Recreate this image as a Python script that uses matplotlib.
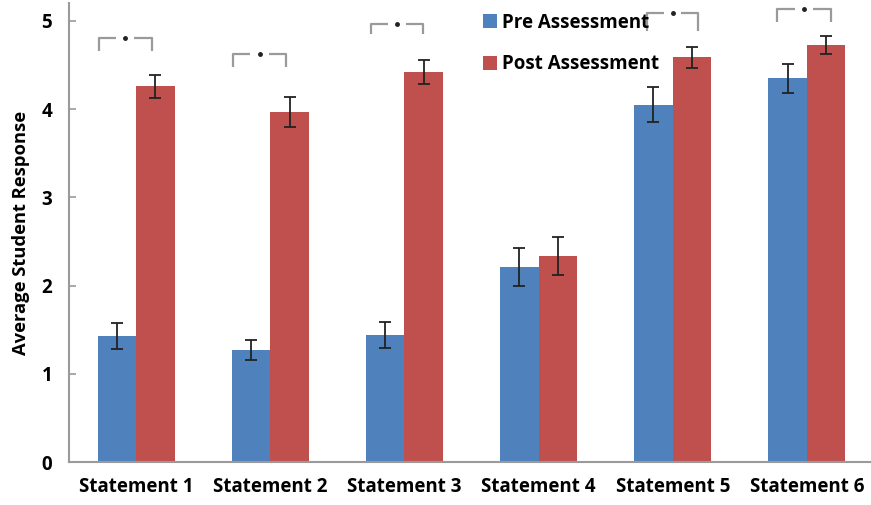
import matplotlib
matplotlib.use("Agg")
import matplotlib.pyplot as plt
import numpy as np

categories = ["Statement 1", "Statement 2", "Statement 3", "Statement 4", "Statement 5", "Statement 6"]
pre_vals = [1.43, 1.27, 1.44, 2.21, 4.05, 4.35]
pre_err = [0.15, 0.11, 0.15, 0.22, 0.20, 0.165]
post_vals = [4.26, 3.97, 4.42, 2.34, 4.59, 4.73]
post_err = [0.13, 0.17, 0.135, 0.215, 0.12, 0.10]
series_labels = ["Pre Assessment", "Post Assessment"]
yticks = [0, 1, 2, 3, 4, 5]

# significance brackets: category index, bracket top, leg bottom
sig_idx = [0, 1, 2, 4, 5]
sig_top = [4.81, 4.63, 4.97, 5.09, 5.14]
sig_bot = [4.66, 4.48, 4.85, 4.89, 4.99]
sig_left = [-0.28, -0.28, -0.25, -0.19, -0.22]
sig_right = [0.12, 0.12, 0.14, 0.19, 0.18]

plt.rcParams['font.family'] = ['Open Sans', 'DejaVu Sans']

fig = plt.figure(figsize=(8.71, 5.05), dpi=100)
ax = fig.add_axes([69/871, 43/505, 805/871, (462-3.3)/505])

x = np.arange(len(categories))
w = 0.287
blue = "#4F81BD"
red = "#C0504D"
ekw = dict(ecolor="#222222", elinewidth=1.3, capsize=4, capthick=1.3)
b1 = ax.bar(x - w/2, pre_vals, w, color=blue, yerr=pre_err, error_kw=ekw, label=series_labels[0])
b2 = ax.bar(x + w/2, post_vals, w, color=red, yerr=post_err, error_kw=ekw, label=series_labels[1])

gray = "#9a9a9a"
for i, t, b, l, r in zip(sig_idx, sig_top, sig_bot, sig_left, sig_right):
    xl, xr = i + l, i + r
    xm = (xl + xr) / 2
    gap = (xr - xl) * 0.17
    ax.plot([xl, xl, xm - gap], [b, t, t], color=gray, lw=1.6, solid_capstyle='butt', clip_on=False)
    ax.plot([xm + gap, xr, xr], [t, t, b], color=gray, lw=1.6, solid_capstyle='butt', clip_on=False)
    ax.plot([xm], [t], marker='o', ms=2.5, color="#222222", clip_on=False)

ax.set_xlim(-0.5, 5.5)
ax.set_ylim(0, 5.2)
ax.set_yticks(yticks)
ax.set_xticks(x)
ax.set_xticklabels(categories, fontsize=13.5, fontweight='bold')
for lab in ax.get_yticklabels():
    lab.set_fontsize(13.5)
    lab.set_fontweight('bold')
ax.tick_params(axis='y', direction='in', length=5, color=gray, width=1.2, pad=12)
ax.tick_params(axis='x', length=0, pad=11)
for s in ['top', 'right']:
    ax.spines[s].set_visible(False)
for s in ['left', 'bottom']:
    ax.spines[s].set_color(gray)
    ax.spines[s].set_linewidth(1.5)
ax.set_ylabel("Average Student Response", fontsize=13.2, fontweight='bold', labelpad=8)

leg = fig.legend(handles=[b1, b2], labels=series_labels, loc='upper left',
                 bbox_to_anchor=(466/871, 1 + 4/505), frameon=False,
                 prop={'weight': 'bold', 'size': 13.5}, handlelength=0.75, handleheight=0.75,
                 handletextpad=0.25, labelspacing=1.15)
for h in leg.legend_handles:
    h.set_edgecolor('none')

fig.savefig("out.png", dpi=100)
